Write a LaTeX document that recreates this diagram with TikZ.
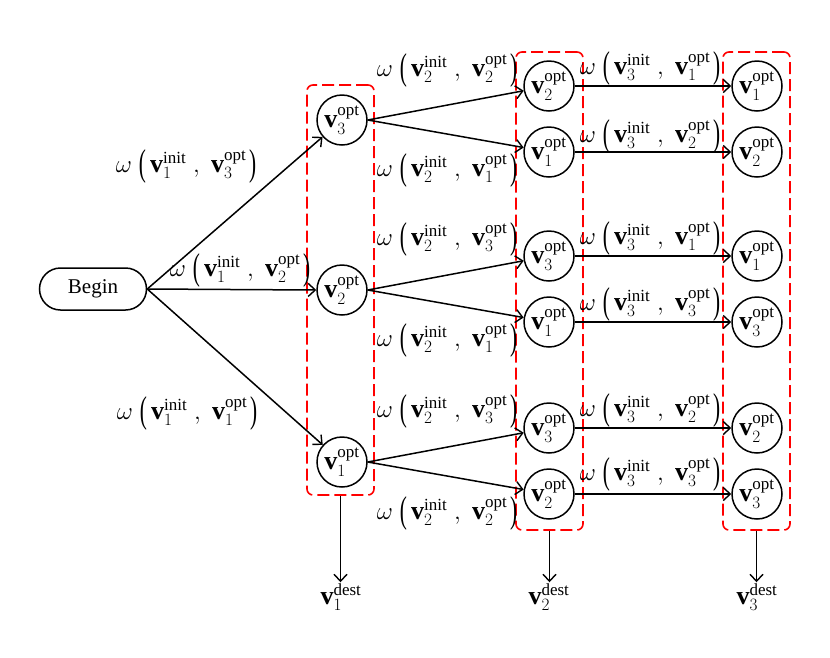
\documentclass[tikz,border=0pt]{standalone}
\usepackage{amsmath}
\usepackage{graphicx}
\usepackage{fontspec}
\setmainfont{Liberation Serif}
\usetikzlibrary{arrows.meta}
\DeclareMathSizes{26}{26}{17}{12}
\newcommand\lpar{\vcenter{\hbox{\fontsize{17}{20}\selectfont\scalebox{1.25}[2.2]{(}}}}
\newcommand\rpar{\vcenter{\hbox{\fontsize{17}{20}\selectfont\scalebox{1.25}[2.2]{)}}}}
\newcommand\wlab[2]{$\omega\mkern5mu\lpar\mkern3mu\mathbf{v}_{#1}^{\mathrm{init}}\mkern5mu{,}\mkern8mu\mathbf{v}_{#2}^{\mathrm{opt}}\mkern2mu\rpar$}
\newcommand\vopt[1]{$\mathbf{v}_{#1}^{\mathrm{opt}}$}
\newcommand\vdest[1]{$\mathbf{v}_{#1}^{\mathrm{dest}}$}
\tikzset{
  vnode/.style={circle, draw, line width=1.5pt, minimum size=50pt, inner sep=0pt, font=\fontsize{26}{30}\selectfont},
  beginnode/.style={rectangle, rounded corners=21pt, draw, line width=1.5pt, minimum width=107pt, minimum height=42pt, font=\fontsize{21}{24}\selectfont},
  redbox/.style={draw=red, dash pattern=on 12pt off 5pt, rounded corners=6pt, line width=1.6pt, inner sep=0pt},
  arr/.style={-{Straight Barb[length=7pt,width=13pt,line width=1.4pt]}, line width=1.5pt},
  lab/.style={font=\fontsize{26}{30}\selectfont, inner sep=0pt},
  dlab/.style={font=\fontsize{26}{30}\selectfont, inner sep=1pt},
}
\begin{document}
\begin{tikzpicture}[x=1pt,y=-1pt]
\useasboundingbox (0,0) rectangle (830,657);
% red dashed boxes
\node[redbox, minimum width=67pt, minimum height=410pt] (b1) at (340.5,290) {};
\node[redbox, minimum width=67pt, minimum height=478pt] (b2) at (549.5,291) {};
\node[redbox, minimum width=67pt, minimum height=478pt] (b3) at (756.5,291) {};
% begin
\node[beginnode] (beg) at (93,289) {Begin};
% column 1
\node[vnode] (c1a) at (342,120) {\vopt{3}};
\node[vnode] (c1b) at (342,290) {\vopt{2}};
\node[vnode] (c1c) at (342,462) {\vopt{1}};
% column 2
\node[vnode] (c2a) at (549,86) {\vopt{2}};
\node[vnode] (c2b) at (549,152) {\vopt{1}};
\node[vnode] (c2c) at (549,256) {\vopt{3}};
\node[vnode] (c2d) at (549,322) {\vopt{1}};
\node[vnode] (c2e) at (549,428) {\vopt{3}};
\node[vnode] (c2f) at (549,494) {\vopt{2}};
% column 3
\node[vnode] (c3a) at (757,86) {\vopt{1}};
\node[vnode] (c3b) at (757,152) {\vopt{2}};
\node[vnode] (c3c) at (757,256) {\vopt{1}};
\node[vnode] (c3d) at (757,322) {\vopt{3}};
\node[vnode] (c3e) at (757,428) {\vopt{2}};
\node[vnode] (c3f) at (757,494) {\vopt{3}};
% destinations
\node[dlab] (d1) at (341,597) {\vdest{1}};
\node[dlab] (d2) at (549,597) {\vdest{2}};
\node[dlab] (d3) at (757,597) {\vdest{3}};
% connectors
\draw[arr] (beg.east) -- (c1a);
\draw[arr] (beg.east) -- (c1b.west);
\draw[arr] (beg.east) -- (c1c);
\draw[arr] (c1a.east) -- (c2a);
\draw[arr] (c1a.east) -- (c2b);
\draw[arr] (c1b.east) -- (c2c);
\draw[arr] (c1b.east) -- (c2d);
\draw[arr] (c1c.east) -- (c2e);
\draw[arr] (c1c.east) -- (c2f);
\draw[arr] (c2a) -- (c3a);
\draw[arr] (c2b) -- (c3b);
\draw[arr] (c2c) -- (c3c);
\draw[arr] (c2d) -- (c3d);
\draw[arr] (c2e) -- (c3e);
\draw[arr] (c2f) -- (c3f);
\draw[arr] (b1.south) -- (b1.south |- d1.north);
\draw[arr] (b2.south) -- (b2.south |- d2.north);
\draw[arr] (b3.south) -- (b3.south |- d3.north);
% labels
\node[lab] (l01a) at (186,166) {\wlab{1}{3}};
\node[lab] (l01b) at (240,270) {\wlab{1}{2}};
\node[lab] (l01c) at (187,413) {\wlab{1}{1}};
\node[lab] (l12a) at (447,70) {\wlab{2}{2}};
\node[lab] (l12b) at (447,170) {\wlab{2}{1}};
\node[lab] (l12c) at (447,239) {\wlab{2}{3}};
\node[lab] (l12d) at (447,340) {\wlab{2}{1}};
\node[lab] (l12e) at (447,411) {\wlab{2}{3}};
\node[lab] (l12f) at (447,513) {\wlab{2}{2}};
\node[lab] (l23a) at (650,68) {\wlab{3}{1}};
\node[lab] (l23b) at (650,136) {\wlab{3}{2}};
\node[lab] (l23c) at (650,238) {\wlab{3}{1}};
\node[lab] (l23d) at (650,304) {\wlab{3}{3}};
\node[lab] (l23e) at (650,410) {\wlab{3}{2}};
\node[lab] (l23f) at (650,474) {\wlab{3}{3}};
\end{tikzpicture}
\end{document}
